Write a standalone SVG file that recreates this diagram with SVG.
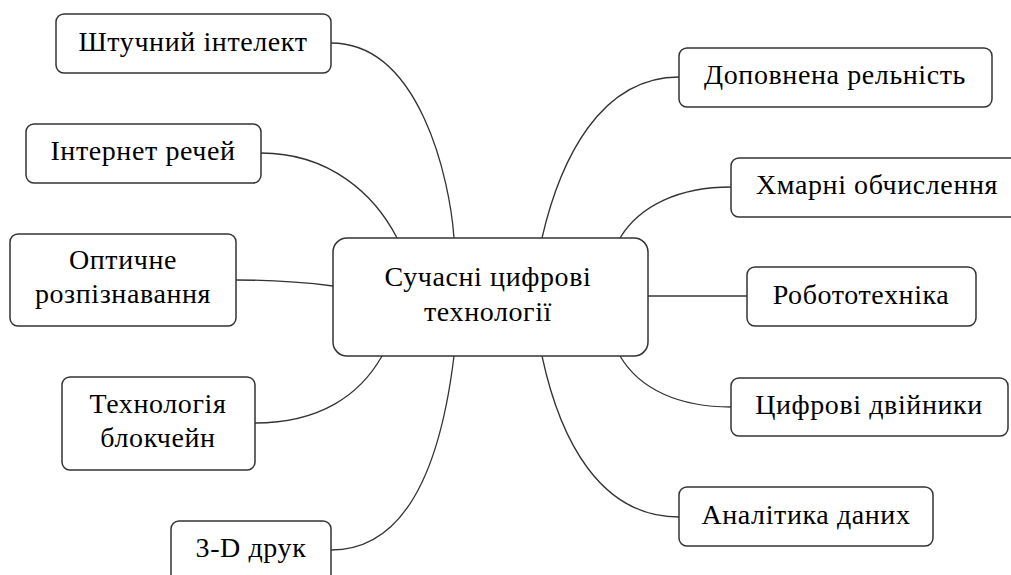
<svg xmlns="http://www.w3.org/2000/svg" width="1011" height="575" viewBox="0 0 1011 575">
<style>
.box{fill:#fff;stroke:#333;stroke-width:1.5}
.t{font-family:'Liberation Serif','Times New Roman',serif;font-size:28px;letter-spacing:0.6px;fill:#000;text-anchor:middle}
.c{fill:none;stroke:#333;stroke-width:1.3}
</style>
<rect width="1011" height="575" fill="#fff"/>
<g id="connectors">
<path class="c" d="M331,43 C420,43 450,180 454,238"/>
<path class="c" d="M261,153 C330,153 375,195 397,238"/>
<path class="c" d="M236,280 C280,280 310,283 333,286"/>
<path class="c" d="M255,423 C320,423 360,395 382,356"/>
<path class="c" d="M331,550 C420,550 445,430 454,356"/>
<path class="c" d="M679,77 C600,77 560,160 542,238"/>
<path class="c" d="M731,187 C680,187 640,205 620,238"/>
<path class="c" d="M648,296 L747,296"/>
<path class="c" d="M731,407 C680,407 640,390 620,356"/>
<path class="c" d="M679,517 C600,517 560,440 542,356"/>
</g>
<g id="center"><rect class="box" x="333" y="238" width="315" height="118" rx="14"/><text class="t" x="488" y="286">Сучасні цифрові</text><text class="t" x="488" y="321">технології</text></g>
<g id="n1"><rect class="box" x="56" y="14" width="275" height="59" rx="8"/><text class="t" x="193" y="51">Штучний інтелект</text></g>
<g id="n2"><rect class="box" x="26" y="124" width="235" height="59" rx="8"/><text class="t" x="143" y="160">Інтернет речей</text></g>
<g id="n3"><rect class="box" x="10" y="234" width="226" height="92" rx="8"/><text class="t" x="123" y="269">Оптичне</text><text class="t" x="123" y="303">розпізнавання</text></g>
<g id="n4"><rect class="box" x="62" y="377" width="193" height="93" rx="8"/><text class="t" x="158" y="413">Технологія</text><text class="t" x="158" y="447">блокчейн</text></g>
<g id="n5"><rect class="box" x="171" y="521" width="160" height="80" rx="8"/><text class="t" x="251" y="557">3-D друк</text></g>
<g id="n6"><rect class="box" x="679" y="48" width="313" height="59" rx="8"/><text class="t" x="835" y="84">Доповнена рельність</text></g>
<g id="n7"><rect class="box" x="731" y="158" width="293" height="59" rx="8"/><text class="t" x="877" y="194">Хмарні обчислення</text></g>
<g id="n8"><rect class="box" x="747" y="267" width="229" height="59" rx="8"/><text class="t" x="861" y="304">Робототехніка</text></g>
<g id="n9"><rect class="box" x="731" y="378" width="277" height="58" rx="8"/><text class="t" x="869" y="414">Цифрові двійники</text></g>
<g id="n10"><rect class="box" x="679" y="487" width="254" height="59" rx="8"/><text class="t" x="806" y="524">Аналітика даних</text></g>
</svg>
